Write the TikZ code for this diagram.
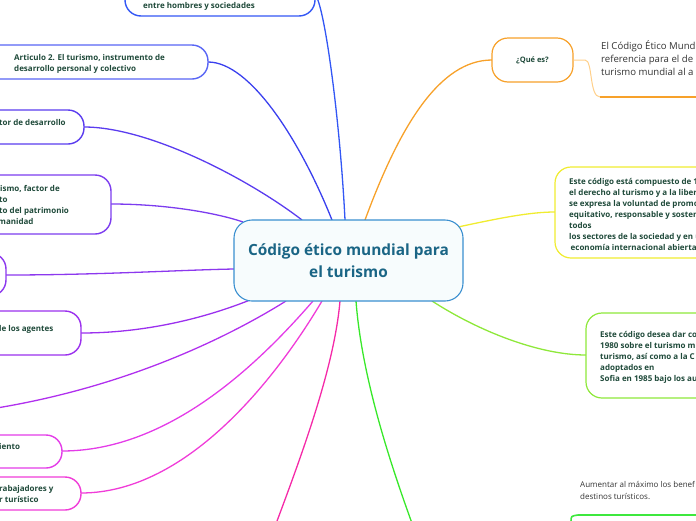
\documentclass[tikz,border=0pt]{standalone}
\usepackage{fontspec}
\setmainfont{Open Sans}
\usetikzlibrary{calc}
\definecolor{txtdark}{HTML}{1F4A3A}
\definecolor{ctrtxt}{HTML}{1A6585}
\definecolor{ctrborder}{HTML}{3A8FD0}
\definecolor{ctrfill}{HTML}{F7FCFD}
\definecolor{cA}{HTML}{3357F5}
\definecolor{cB}{HTML}{5865F5}
\definecolor{cBl}{HTML}{3A40EE}
\definecolor{cC}{HTML}{5A3CEF}
\definecolor{cD}{HTML}{7C3CEF}
\definecolor{cE}{HTML}{8C38EE}
\definecolor{cF}{HTML}{9B30EE}
\definecolor{cG}{HTML}{B030EE}
\definecolor{cH}{HTML}{E43CE8}
\definecolor{cI}{HTML}{F03CD8}
\definecolor{cJ}{HTML}{F52AA8}
\definecolor{cK}{HTML}{38E82A}
\definecolor{cOr}{HTML}{F7A12A}
\definecolor{cOrl}{HTML}{FFD08A}
\definecolor{cY}{HTML}{F0EC30}
\definecolor{cL}{HTML}{8EE83A}
\definecolor{cGr}{HTML}{3EE83E}
\definecolor{graytxt}{HTML}{333333}
\tikzset{
  box/.style={draw=#1, line width=1.4pt, rounded corners=16pt, fill=white, inner sep=0pt},
  conn/.style={draw=#1, line width=1.3pt},
  lbl/.style={text=txtdark, font=\fontsize{8}{11}\selectfont\bfseries, inner sep=0pt, anchor=base west, align=left},
  plain/.style={text=graytxt, font=\fontsize{9.6}{13}\selectfont, inner sep=0pt, anchor=base west, align=left},
  plainsm/.style={text=graytxt, font=\fontsize{8}{12}\selectfont, inner sep=0pt, anchor=base west, align=left},
}
\begin{document}
\begin{tikzpicture}[x=1pt,y=-1pt]
\useasboundingbox (0,0) rectangle (696,520);
\clip (0,0) rectangle (696,520);
% connector attach points on the central node
\coordinate (p1) at (345,220);
\coordinate (p2) at (332,220);
\coordinate (p3) at (302,220);
\coordinate (p4) at (243,222);
\coordinate (p5) at (234,269);
\coordinate (p6) at (250,300);
\coordinate (p7) at (286,301);
\coordinate (p8) at (313,301);
\coordinate (p9) at (322,301);
\coordinate (p10) at (340,301);
\coordinate (p11) at (356,301);
\coordinate (p12) at (365,220);
\coordinate (p13) at (458,227);
\coordinate (p14) at (432,301);
% off-canvas ends
\coordinate (e7) at (-30,412);
\coordinate (e10) at (268,545);
\coordinate (e11) at (420,545);
% connectors (drawn first)
\draw[conn=cA] (p1) .. controls (340,120) and (325,10) .. (316,-4);
\draw[conn=cBl] (p2) .. controls (300,140) and (250,62) .. (208,62);
\draw[conn=cC] (p3) .. controls (250,180) and (150,127) .. (84,127);
\draw[conn=cD] (p4) .. controls (220,214) and (170,204) .. (111,204);
\draw[conn=cE] (p5) .. controls (180,270) and (100,275) .. (6,275);
\draw[conn=cF] (p6) .. controls (210,316) and (150,333) .. (81,333);
\draw[conn=cG] (p7) .. controls (230,336) and (120,392) .. (e7);
\draw[conn=cH] (p8) .. controls (260,362) and (170,451) .. (62,451);
\draw[conn=cI] (p9) .. controls (280,372) and (190,493) .. (81,493);
\draw[conn=cJ] (p10) .. controls (334,370) and (300,460) .. (e10);
\draw[conn=cK] (p11) .. controls (362,380) and (392,470) .. (e11);
\draw[conn=cOr] (p12) .. controls (400,125) and (440,60) .. (492,60);
\draw[conn=cY] (p13) .. controls (500,218) and (530,212) .. (555,212);
\draw[conn=cL] (p14) .. controls (480,332) and (540,355) .. (586,355);
% central node
\node[draw=ctrborder, line width=1.1pt, fill=ctrfill, rounded corners=18pt, minimum width=229pt, minimum height=81pt, inner sep=0pt, align=center, text=ctrtxt, font=\fontsize{15.4}{22}\selectfont\bfseries] (c) at (348.5,260.5) {Código ético mundial para\\el turismo};
% left boxes
\node[box=cA, minimum width=190pt, minimum height=40pt] (b1) at (220,-4) {};
\node[lbl] (t1) at (143,8) {entre hombres y sociedades};
\node[box=cB, minimum width=228pt, minimum height=34pt] (b2) at (94,62) {};
\node[lbl] (t2) at (14,71) {Articulo 2. El turismo, instrumento de\\desarrollo personal y colectivo};
\node[box=cC, minimum width=144pt, minimum height=34pt] (b3) at (12,127) {};
\node[lbl] (t3) at (-1,125) {tor de desarrollo};
\node[box=cD, minimum width=171pt, minimum height=59pt] (b4) at (25.5,204.5) {};
\node[lbl] (t4a) at (0,191) {ismo, factor de};
\node[lbl] (t4b) at (-1,202) {to};
\node[lbl] (t4c) at (-1,213) {to del patrimonio};
\node[lbl] (t4d) at (-2,224) {manidad};
\node[box=cE, minimum width=66pt, minimum height=43pt] (b5) at (-27,274.5) {};
\node[box=cF, minimum width=141pt, minimum height=44pt] (b6) at (10.5,333) {};
\node[lbl] (t6) at (-1,331) {le los agentes};
\node[box=cH, minimum width=122pt, minimum height=33pt] (b8) at (1,451.5) {};
\node[lbl] (t8) at (-1,449) {iento};
\node[box=cI, minimum width=141pt, minimum height=33pt] (b9) at (10.5,493.5) {};
\node[lbl] (t9) at (-1,502) {rabajadores y\\r turístico};
% right side
\node[box=cOr, line width=1.2pt, minimum width=81pt, minimum height=44pt, text=txtdark, font=\fontsize{7.5}{11}\selectfont\bfseries] (qe) at (532.5,60) {¿Qué es?};
\coordinate (u1) at (600,97);
\coordinate (u2) at (700,97);
\draw[draw=cOrl, line width=1pt] (qe.east) -- (585,60) .. controls (593,60) and (589,97) .. (u1);
\draw[draw=cOr, line width=2pt] (u1) -- (u2);
\node[plain] (to) at (601,75.5) {El Código Ético Mund\\referencia para el de\\turismo mundial al a};
\node[box=cY, line width=1.2pt, minimum width=170pt, minimum height=91pt] (by) at (640,212.5) {};
\node[lbl] (ty) at (569,250) {Este código está compuesto de 1\\el derecho al turismo y a la liber\\se expresa la voluntad de promo\\equitativo, responsable y sosten\\todos\\los sectores de la sociedad y en u\\\hspace{1.5pt}economía internacional abierta};
\node[box=cL, line width=1.2pt, minimum width=140pt, minimum height=85pt] (bl) at (656,355.5) {};
\node[lbl] (tl) at (600,381) {Este código desea dar co\\1980 sobre el turismo mu\\turismo, así como a la C\\adoptados en\\Sofia en 1985 bajo los au};
\node[plainsm] (tb) at (580,499) {Aumentar al máximo los benef\\destinos turísticos.};
\coordinate (g1) at (571,522);
\coordinate (g2) at (700,515);
\draw[draw=cGr, line width=1.6pt] (g1) .. controls (571,516) .. (578,515) -- (g2);
\end{tikzpicture}
\end{document}
